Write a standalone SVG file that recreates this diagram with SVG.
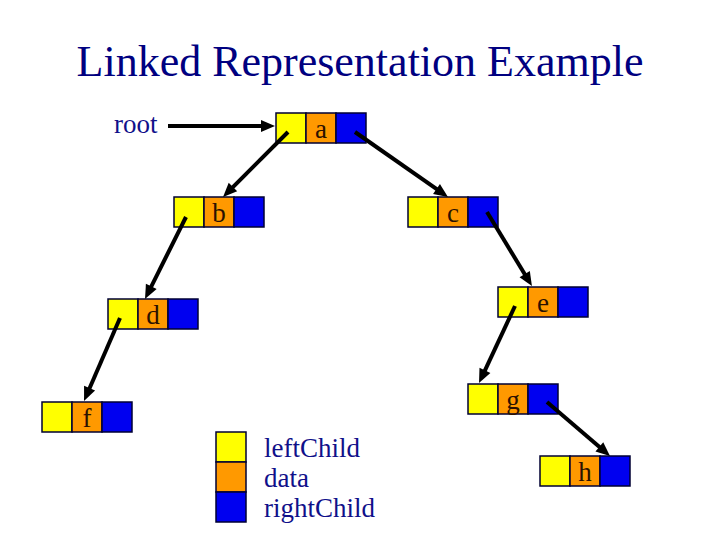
<svg xmlns="http://www.w3.org/2000/svg" width="720" height="540" viewBox="0 0 720 540">
<style>
  .l{fill:#ffff00;stroke:#000033;stroke-width:1.5}
  .d{fill:#ff9900;stroke:#000033;stroke-width:1.5}
  .r{fill:#0000f0;stroke:#000033;stroke-width:1.5}
  .v{font-family:"Liberation Serif","Times New Roman",serif;font-size:27px;fill:#2b1100;text-anchor:middle}
  .t{font-family:"Liberation Serif","Times New Roman",serif;fill:#10108a}
  .c{stroke:#000;stroke-width:4;fill:none;marker-end:url(#ah)}
</style>
<defs>
  <marker id="ah" markerUnits="userSpaceOnUse" markerWidth="14" markerHeight="12" refX="6" refY="6" orient="auto" overflow="visible">
    <path d="M0,0 L14,6 L0,12 z" fill="#000"/>
  </marker>
</defs>
<rect width="720" height="540" fill="#fff"/>
<text class="t" x="360" y="76" font-size="44" text-anchor="middle" style="fill:#000080">Linked Representation Example</text>
<text class="t" x="114" y="133" font-size="27">root</text>

<g id="node-a" transform="translate(276,113)">
  <rect class="l" x="0" y="0" width="30" height="30"/><rect class="d" x="30" y="0" width="30" height="30"/><rect class="r" x="60" y="0" width="30" height="30"/>
  <text class="v" x="45" y="25">a</text>
</g>
<g id="node-b" transform="translate(174,197)">
  <rect class="l" x="0" y="0" width="30" height="30"/><rect class="d" x="30" y="0" width="30" height="30"/><rect class="r" x="60" y="0" width="30" height="30"/>
  <text class="v" x="45" y="25">b</text>
</g>
<g id="node-c" transform="translate(408,197)">
  <rect class="l" x="0" y="0" width="30" height="30"/><rect class="d" x="30" y="0" width="30" height="30"/><rect class="r" x="60" y="0" width="30" height="30"/>
  <text class="v" x="45" y="25">c</text>
</g>
<g id="node-d" transform="translate(108,299)">
  <rect class="l" x="0" y="0" width="30" height="30"/><rect class="d" x="30" y="0" width="30" height="30"/><rect class="r" x="60" y="0" width="30" height="30"/>
  <text class="v" x="45" y="25">d</text>
</g>
<g id="node-e" transform="translate(498,287)">
  <rect class="l" x="0" y="0" width="30" height="30"/><rect class="d" x="30" y="0" width="30" height="30"/><rect class="r" x="60" y="0" width="30" height="30"/>
  <text class="v" x="45" y="25">e</text>
</g>
<g id="node-f" transform="translate(42,402)">
  <rect class="l" x="0" y="0" width="30" height="30"/><rect class="d" x="30" y="0" width="30" height="30"/><rect class="r" x="60" y="0" width="30" height="30"/>
  <text class="v" x="45" y="25">f</text>
</g>
<g id="node-g" transform="translate(468,384)">
  <rect class="l" x="0" y="0" width="30" height="30"/><rect class="d" x="30" y="0" width="30" height="30"/><rect class="r" x="60" y="0" width="30" height="30"/>
  <text class="v" x="45" y="25">g</text>
</g>
<g id="node-h" transform="translate(540,456)">
  <rect class="l" x="0" y="0" width="30" height="30"/><rect class="d" x="30" y="0" width="30" height="30"/><rect class="r" x="60" y="0" width="30" height="30"/>
  <text class="v" x="45" y="25">h</text>
</g>

<g id="connectors">
  <line class="c" x1="168" y1="126" x2="267" y2="126"/>
  <line class="c" x1="288" y1="132" x2="228.7" y2="191.3"/>
  <line class="c" x1="355" y1="132" x2="441.4" y2="192.4"/>
  <line class="c" x1="186" y1="217" x2="148.6" y2="291.8"/>
  <line class="c" x1="120" y1="318" x2="87.2" y2="393.7"/>
  <line class="c" x1="487" y1="212" x2="527.8" y2="279.2"/>
  <line class="c" x1="515" y1="306" x2="482.4" y2="375.8"/>
  <line class="c" x1="547" y1="402" x2="603.9" y2="450.8"/>
</g>

<g id="legend">
  <rect class="l" x="216" y="432" width="30" height="30"/>
  <rect class="d" x="216" y="462" width="30" height="30"/>
  <rect class="r" x="216" y="492" width="30" height="30"/>
  <text class="t" x="264" y="457" font-size="27">leftChild</text>
  <text class="t" x="264" y="487" font-size="27">data</text>
  <text class="t" x="264" y="517" font-size="27">rightChild</text>
</g>
</svg>
